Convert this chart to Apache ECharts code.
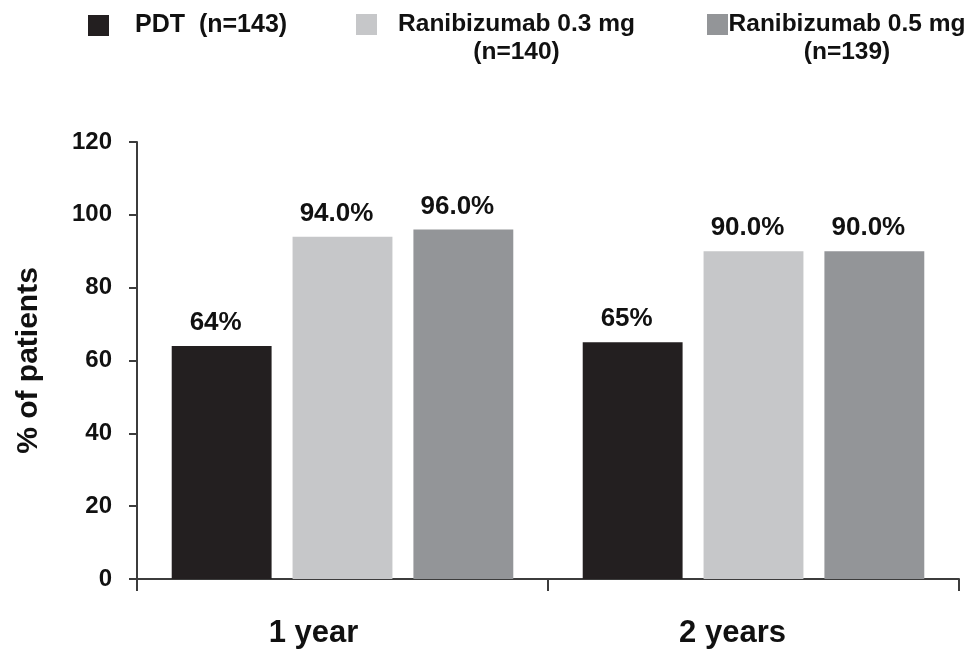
<!DOCTYPE html>
<html>
<head>
<meta charset="utf-8">
<script src="https://cdn.jsdelivr.net/npm/echarts@6/dist/echarts.min.js"></script>
<style>
html,body{margin:0;padding:0;background:#fff;}
#chart{width:974px;height:652px;}
</style>
</head>
<body>
<div id="chart"></div>
<script>
const categories = ['1 year', '2 years'];
const seriesNames = ['PDT', 'Ranibizumab 0.3 mg', 'Ranibizumab 0.5 mg'];
const seriesN = ['(n=143)', '(n=140)', '(n=139)'];
const pdtValues = [64, 65];
const rani03Values = [94.0, 90.0];
const rani05Values = [96.0, 90.0];
const valueLabels = [['64%', '65%'], ['94.0%', '90.0%'], ['96.0%', '90.0%']];
const yTicks = [0, 20, 40, 60, 80, 100, 120];
const colors = ['#231f20', '#c6c7c9', '#939598'];

const font = 'Liberation Sans, Arial, sans-serif';
const chart = echarts.init(document.getElementById('chart'));

function mkSeries(i, data) {
  return {
    name: seriesNames[i],
    type: 'bar',
    data: data,
    barWidth: '24.3%',
    barGap: '21%',
    itemStyle: { color: colors[i] },
    label: {
      show: true,
      position: 'top',
      distance: 10,
      offset: [-6, 0],
      fontFamily: font,
      fontWeight: 'bold',
      fontSize: 26,
      color: '#111',
      formatter: p => valueLabels[i][p.dataIndex]
    }
  };
}

const legendBase = {
  orient: 'horizontal',
  padding: 0,
  itemWidth: 21,
  itemHeight: 21,
  icon: 'rect'
};

function richLegend(i, left, w, padLeft) {
  return Object.assign({}, legendBase, {
    left: left, top: -16,
    data: [seriesNames[i]],
    formatter: n => '{a| }\n{a|' + n + '}\n{a|' + seriesN[i] + '}',
    textStyle: {
      fontFamily: font, fontWeight: 'bold', fontSize: 24.5, color: '#111',
      padding: [0, 0, 0, padLeft],
      rich: { a: { fontFamily: font, fontWeight: 'bold', fontSize: 24.5, color: '#111', lineHeight: 28, width: w, align: 'center' } }
    }
  });
}

chart.setOption({
  backgroundColor: '#fff',
  animation: false,
  legend: [
    Object.assign({}, legendBase, {
      left: 88, top: 13,
      data: [seriesNames[0]],
      formatter: n => n + '  ' + seriesN[0],
      textStyle: { fontFamily: font, fontWeight: 'bold', fontSize: 25, color: '#111', padding: [0, 0, 0, 21] }
    }),
    richLegend(1, 356, 233, 18),
    richLegend(2, 707, 228, 0)
  ],
  grid: { left: 137, right: 15, top: 142, bottom: 73, containLabel: false },
  xAxis: {
    type: 'category',
    data: categories,
    axisLine: { lineStyle: { color: '#3c3c3c', width: 2 } },
    axisTick: { show: true, length: 12, lineStyle: { color: '#3c3c3c', width: 2 } },
    axisLabel: {
      margin: 39, fontFamily: font, fontWeight: 'bold', fontSize: 31, color: '#111',
      formatter: (v, idx) => '{c' + idx + '|' + v + '}',
      rich: {
        c0: { fontFamily: font, fontWeight: 'bold', fontSize: 31, color: '#111', padding: [0, 58, 0, 0] },
        c1: { fontFamily: font, fontWeight: 'bold', fontSize: 31, color: '#111', padding: [0, 42, 0, 0] }
      }
    }
  },
  yAxis: {
    type: 'value',
    min: 0, max: 120, interval: 20,
    name: '% of patients',
    nameLocation: 'middle',
    nameGap: 93,
    nameTextStyle: { fontFamily: font, fontWeight: 'bold', fontSize: 30, color: '#111' },
    axisLine: { show: true, lineStyle: { color: '#3c3c3c', width: 2 } },
    axisTick: { show: true, length: 8, lineStyle: { color: '#3c3c3c', width: 2 } },
    splitLine: { show: false },
    axisLabel: {
      margin: 25, fontFamily: font, fontWeight: 'bold', fontSize: 24, color: '#111',
      formatter: v => yTicks.includes(v) ? String(v) : ''
    }
  },
  series: [mkSeries(0, pdtValues), mkSeries(1, rani03Values), mkSeries(2, rani05Values)]
});
</script>
</body>
</html>
